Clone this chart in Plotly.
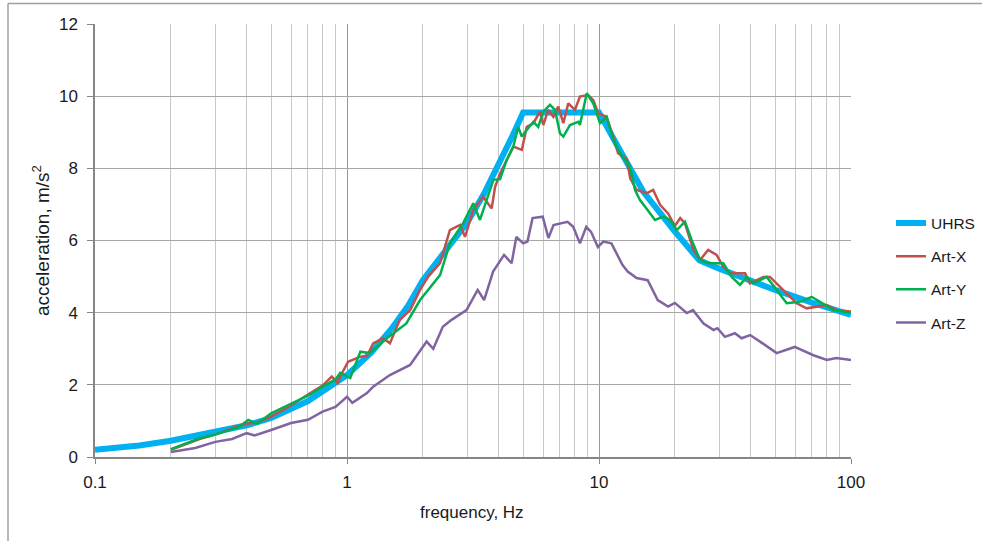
import plotly.graph_objects as go

# ---------------- data ----------------
uhrs_f = [0.1, 0.15, 0.2, 0.3, 0.4, 0.5, 0.7, 1.0, 1.25, 1.5, 1.75, 2.0, 2.5, 3.0, 3.5, 4.0, 4.5, 5.0, 10.0, 12.0, 15.0, 20.0, 25.0, 30.0, 40.0, 50.0, 70.0, 100.0]
uhrs_a = [0.2, 0.32, 0.45, 0.69, 0.88, 1.08, 1.55, 2.27, 2.9, 3.55, 4.2, 4.9, 5.75, 6.5, 7.3, 8.1, 8.85, 9.55, 9.55, 8.55, 7.35, 6.25, 5.45, 5.22, 4.87, 4.63, 4.28, 3.94]

artx_f = [0.2, 0.26, 0.3, 0.365, 0.4, 0.44, 0.5, 0.59, 0.71, 0.8, 0.87, 0.92, 0.94, 1.01, 1.13, 1.2, 1.27, 1.39, 1.48, 1.62, 1.78, 1.95, 2.1,
          2.34, 2.56, 2.81, 2.94, 3.17, 3.47, 3.75, 3.87, 4.05, 4.37, 4.57, 4.94, 5.17, 5.49, 5.83, 6.01, 6.29, 6.59, 6.89, 7.22, 7.55,
          8.03, 8.4, 9.07, 9.49, 9.94, 10.7, 11.4, 11.9, 12.9, 13.3, 14.1, 15.5, 16.4, 17.5, 18.8, 20.0, 21.0, 21.9, 23.7, 25.2, 27.1,
          29.3, 31.1, 33.1, 35.2, 38.0, 39.7, 44.9, 47.7, 53.9, 60.9, 66.7, 73.1, 80.1, 87.8, 100.0]
artx_a = [0.2, 0.5, 0.62, 0.84, 0.92, 0.95, 1.12, 1.4, 1.76, 1.98, 2.23, 2.05, 2.23, 2.64, 2.78, 2.8, 3.15, 3.29, 3.15, 3.8, 4.07, 4.63, 5.0,
          5.37, 6.29, 6.43, 6.1, 6.85, 7.21, 6.89, 7.49, 7.86, 8.32, 8.6, 8.51, 9.15, 9.25, 9.57, 9.2, 9.62, 9.43, 9.71, 9.25, 9.8,
          9.62, 9.99, 10.03, 9.89, 9.52, 9.43, 8.88, 8.42, 8.26, 7.72, 7.4, 7.31, 7.4, 6.98, 6.75, 6.4, 6.62, 6.48, 5.74, 5.46, 5.74,
          5.6, 5.27, 5.09, 5.09, 5.09, 4.81, 4.99, 4.99, 4.63, 4.26, 4.12, 4.17, 4.21, 4.07, 4.03]

arty_f = [0.2, 0.26, 0.3, 0.37, 0.406, 0.44, 0.5, 0.59, 0.71, 0.8, 0.9, 0.94, 1.03, 1.13, 1.23, 1.44, 1.72, 1.95, 2.34, 2.56, 2.89, 3.17,
          3.37, 3.81, 4.05, 4.3, 4.57, 4.78, 4.94, 5.17, 5.49, 5.74, 6.01, 6.39, 6.69, 7.0, 7.22, 7.67, 8.28, 8.4, 8.94, 9.49, 10.09,
          10.73, 11.4, 12.12, 13.27, 13.9, 14.54, 15.22, 16.68, 18.0, 19.13, 20.35, 21.94, 23.33, 25.17, 27.14, 31.14, 33.62, 36.27,
          38.56, 40.96, 43.54, 46.29, 50.72, 55.56, 62.75, 69.82, 75.34, 85.08, 100.0]
arty_a = [0.22, 0.52, 0.62, 0.82, 1.03, 0.92, 1.21, 1.44, 1.72, 1.95, 2.15, 2.33, 2.19, 2.92, 2.88, 3.29, 3.7, 4.35, 5.04, 5.92, 6.48, 7.03,
          6.57, 7.68, 7.7, 8.23, 8.6, 9.15, 8.88, 9.06, 9.29, 9.15, 9.57, 9.76, 9.62, 8.97, 8.88, 9.2, 9.29, 9.2, 10.08, 9.8, 9.25,
          9.43, 8.79, 8.42, 8.05, 7.4, 7.12, 6.94, 6.57, 6.66, 6.57, 6.29, 6.52, 6.01, 5.46, 5.37, 5.37, 4.99, 4.77,
          4.99, 4.81, 4.9, 4.99, 4.63, 4.26, 4.3, 4.44, 4.3, 4.07, 4.0]

artz_f = [0.2, 0.25, 0.3, 0.35, 0.4, 0.43, 0.5, 0.6, 0.7, 0.8, 0.9, 1.0, 1.05, 1.2, 1.27, 1.48, 1.78, 2.07, 2.2, 2.4, 2.6, 2.98, 3.3, 3.5,
          3.8, 4.2, 4.5, 4.7, 5.0, 5.2, 5.45, 5.98, 6.3, 6.6, 7.5, 7.9, 8.4, 8.9, 9.3, 9.9, 10.4, 11.2, 12.4, 13.0, 14.1, 15.6, 17.1,
          18.8, 20.0, 22.3, 23.6, 26.0, 28.5, 29.5, 31.6, 34.6, 36.8, 39.8, 44.6, 50.7, 59.8, 70.9, 80.2, 87.5, 100.0]
artz_a = [0.14, 0.25, 0.42, 0.5, 0.66, 0.6, 0.75, 0.94, 1.03, 1.26, 1.39, 1.67, 1.5, 1.77, 1.95, 2.27, 2.55, 3.2, 3.0, 3.61, 3.8, 4.07, 4.63, 4.35,
          5.14, 5.6, 5.37, 6.1, 5.92, 5.97, 6.62, 6.66, 6.07, 6.43, 6.52, 6.38, 5.92, 6.38, 6.24, 5.82, 5.97, 5.92, 5.32, 5.14, 4.96, 4.9, 4.35,
          4.17, 4.27, 3.99, 4.07, 3.7, 3.52, 3.57, 3.33, 3.43, 3.29, 3.38, 3.15, 2.88, 3.05, 2.82, 2.69, 2.74, 2.69]

x_tickvals = [0.1, 1, 10, 100]
x_ticktext = ["0.1", "1", "10", "100"]
y_tickvals = [0, 2, 4, 6, 8, 10, 12]

FONT = "Liberation Sans, Arial, sans-serif"
TXT = "#1a1a1a"
PW = 756.0  # plot width in px (for paper-coordinate placement)

fig = go.Figure()
fig.add_trace(go.Scatter(x=uhrs_f, y=uhrs_a, name="UHRS", mode="lines",
                         line=dict(color="#00B0F0", width=6), legendgroup="a"))
fig.add_trace(go.Scatter(x=artx_f, y=artx_a, name="Art-X", mode="lines",
                         line=dict(color="#C0504D", width=2.5), legendgroup="b"))
fig.add_trace(go.Scatter(x=arty_f, y=arty_a, name="Art-Y", mode="lines",
                         line=dict(color="#00B050", width=2.5), legendgroup="c"))
fig.add_trace(go.Scatter(x=artz_f, y=artz_a, name="Art-Z", mode="lines",
                         line=dict(color="#8064A2", width=2.5), legendgroup="d"))

fig.update_layout(
    width=982, height=541,
    margin=dict(l=95, r=131, t=24, b=84, autoexpand=False),
    paper_bgcolor="white", plot_bgcolor="white",
    font=dict(family=FONT, size=16, color=TXT),
    showlegend=True,
    legend=dict(x=(891 - 95) / PW, y=0.425, xanchor="left", yanchor="middle",
                font=dict(family=FONT, size=15.5, color=TXT),
                tracegroupgap=10, bgcolor="rgba(0,0,0,0)"),
    xaxis=dict(type="log", range=[-1, 2], tickvals=x_tickvals, ticktext=x_ticktext,
               showgrid=True, gridcolor="#9A9A9A", gridwidth=1,
               minor=dict(dtick="D1", showgrid=True, gridcolor="#C8C8C8", gridwidth=1, ticks=""),
               showline=True, linecolor="#868686", linewidth=1.5,
               ticks="outside", ticklen=5, tickcolor="#868686", ticklabelstandoff=4,
               tickfont=dict(size=17, color=TXT), zeroline=False),
    yaxis=dict(range=[0, 12], tickvals=y_tickvals,
               showgrid=True, gridcolor="#A6A6A6", gridwidth=1,
               showline=True, linecolor="#868686", linewidth=1.5,
               ticks="outside", ticklen=6, tickcolor="#868686", ticklabelstandoff=6,
               tickfont=dict(size=17, color=TXT), zeroline=False,
               title=dict(text="acceleration, m/s<sup>2</sup>", font=dict(size=19, color=TXT), standoff=4)),
    annotations=[dict(text="frequency, Hz", xref="paper", yref="paper",
                      x=(472 - 95) / PW, y=-(512 - 457) / 433, xanchor="center", yanchor="middle",
                      showarrow=False, font=dict(size=17, color=TXT))],
    shapes=[
        dict(type="line", xref="paper", yref="paper", x0=-(95 - 8) / PW, x1=1.25,
             y0=(457 - 3.5) / 433, y1=(457 - 3.5) / 433, line=dict(color="#A0A0A0", width=1.5)),
        dict(type="line", xref="paper", yref="paper", x0=-(95 - 8) / PW, x1=-(95 - 8) / PW,
             y0=(457 - 3.5) / 433, y1=-0.3, line=dict(color="#A0A0A0", width=1.5)),
    ],
)

fig.write_html("out.html")
